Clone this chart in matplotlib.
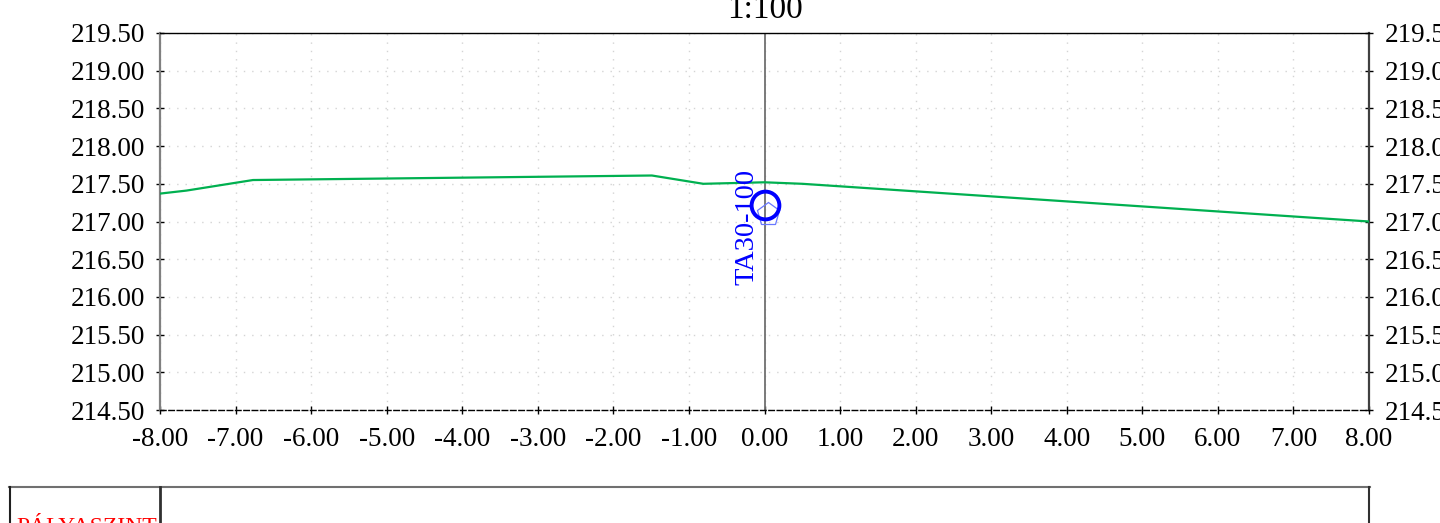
import matplotlib
matplotlib.use("Agg")
import matplotlib.pyplot as plt
from matplotlib.lines import Line2D
from matplotlib.ticker import FormatStrFormatter, MultipleLocator

plt.rcParams['font.family'] = ['Liberation Serif', 'DejaVu Serif']

# Data
title = "1:100"
profile_x = [-8.0, -7.65, -6.77, -1.49, -0.81, 0.0, 0.5, 8.0]
profile_y = [217.37, 217.41, 217.55, 217.61, 217.50, 217.52, 217.50, 217.00]
point_x = [0.0]
point_y = [217.22]
point_label = "TA30-100"
x_limits = [-8.0, 8.0]
y_limits = [214.5, 219.5]
table_label = "PÁLYASZINT"

W, H = 1440, 523
fig = plt.figure(figsize=(W / 100, H / 100), dpi=100)
L, R, T, B = 160, 1369, 33, 410
ax = fig.add_axes([L / W, 1 - B / H, (R - L) / W, (B - T) / H])

ax.set_xlim(*x_limits)
ax.set_ylim(*y_limits)
ax.xaxis.set_major_locator(MultipleLocator(1.0))
ax.yaxis.set_major_locator(MultipleLocator(0.5))
ax.xaxis.set_major_formatter(FormatStrFormatter('%.2f'))
ax.yaxis.set_major_formatter(FormatStrFormatter('%.2f'))

ax.grid(True, color='#d4d4d4', linestyle=(0, (1, 5)), linewidth=1.0)
ax.set_axisbelow(True)

ax.tick_params(axis='y', which='both', left=True, right=True, labelleft=True,
               labelright=True, direction='inout', length=6, width=1,
               labelsize=19.5, pad=8)
ax.tick_params(axis='x', direction='inout', length=6, width=1,
               labelsize=19.5, pad=9)

ax.spines['top'].set_color('black')
ax.spines['top'].set_linewidth(1.0)
ax.spines['left'].set_color('#808080')
ax.spines['left'].set_linewidth(1.6)
ax.spines['right'].set_color('#404040')
ax.spines['right'].set_linewidth(1.6)
ax.spines['bottom'].set_color('black')
ax.spines['bottom'].set_linewidth(1.0)
ax.spines['bottom'].set_linestyle((0, (4, 2)))

# vertical centre line
ax.axvline(0.0, color='#707070', linewidth=1.3, zorder=2)

# profile
ax.plot(profile_x, profile_y, color='#00b050', linewidth=1.6, zorder=3)

# point marker
ax.plot([point_x[0] + 0.04], [point_y[0] - 0.12], marker='p', markersize=17,
        markerfacecolor='none', markeredgecolor='#6878ff', markeredgewidth=0.9,
        linestyle='none', zorder=4)
ax.plot(point_x, point_y, marker='o', markersize=20, markerfacecolor='none',
        markeredgecolor='#0000ff', markeredgewidth=2.8, linestyle='none', zorder=5)
ax.text(point_x[0] - 0.07, 216.93, point_label, rotation=90, ha='right', va='center',
        color='#0000ff', fontsize=20.5, zorder=5)

ax.set_title(title, fontsize=24, pad=11)

# table at bottom
def fl(x0, y0, x1, y1, c, lw):
    fig.add_artist(Line2D([x0 / W, x1 / W], [1 - y0 / H, 1 - y1 / H],
                          color=c, linewidth=lw, transform=fig.transFigure))

fl(9, 487, 1370, 487, '#707070', 1.5)
fl(9.5, 487, 9.5, 540, '#202020', 1.5)
fl(160, 487, 160, 540, '#303030', 2.0)
fl(1369, 487, 1369, 540, '#303030', 1.5)
fig.text(16 / W, 1 - 533 / H, table_label, color='red', fontsize=17,
         ha='left', va='baseline')

fig.savefig('out.png', dpi=100)
